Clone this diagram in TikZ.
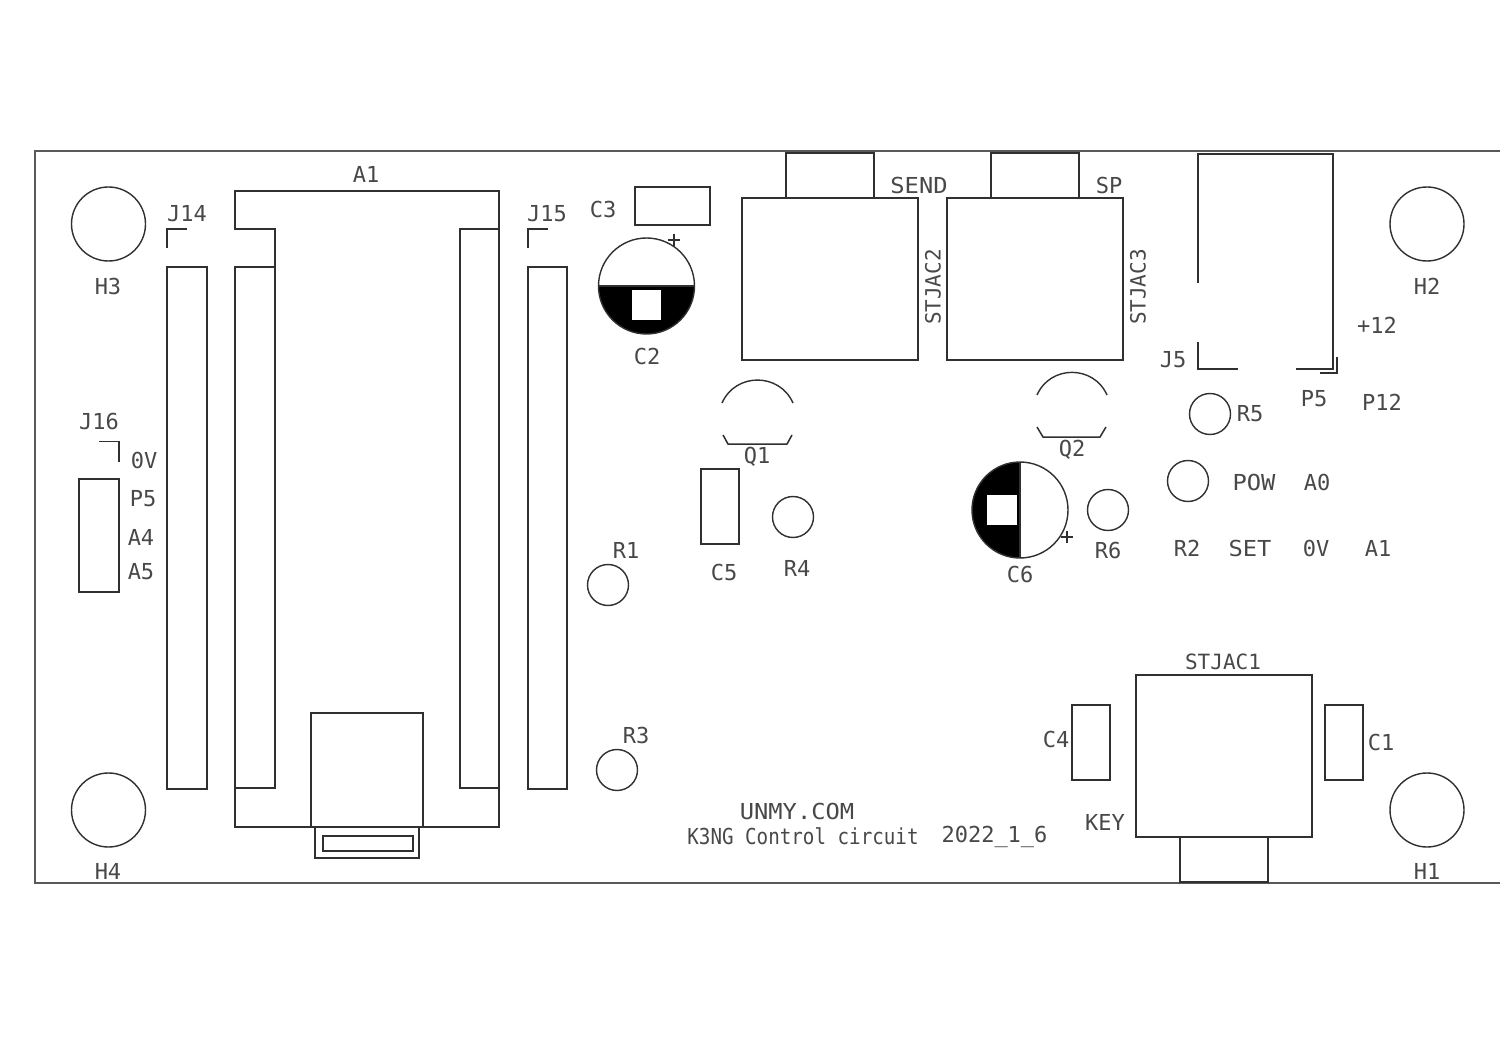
\documentclass[tikz,border=0pt]{standalone}
\usepackage{fontspec}
\setmonofont{DejaVu Sans Mono}
\definecolor{silk}{HTML}{303030}
\definecolor{txt}{HTML}{484848}
\tikzset{
  outline/.style={draw=silk,line width=1.5pt,line join=miter},
  lbl/.style={text=txt,inner sep=0pt,font=\fontsize{22}{22}\selectfont\ttfamily},
  lblwide/.style={lbl,font=\fontsize{22}{22}\selectfont\ttfamily\addfontfeature{FakeStretch=1.08}},
  lblthin/.style={lbl,font=\fontsize{21}{21}\selectfont\ttfamily},
  lblnote/.style={lbl,font=\fontsize{22}{22}\selectfont\ttfamily\addfontfeature{FakeStretch=0.873}},
  hole/.style={draw=silk,line width=1.4pt}
}
\begin{document}
\begin{tikzpicture}[x=1pt,y=-1pt]
  \useasboundingbox (0,0) rectangle (1500,1059);
  \fill[white] (0,0) rectangle (1500,1059);
  % board edge
  \draw[draw=silk!80,line width=1.7pt] (1500,151) -- (35,151) -- (35,883) -- (1500,883);
  % mounting holes and resistors
  \foreach \x/\y in {108.5/224,1427/224,108.5/810,1427/810}{
    \draw[hole] (\x,\y) circle (37);}
  \foreach \x/\y in {608/585,617/770,793/517,1108/510,1210/414,1188/481}{
    \draw[hole] (\x,\y) circle (20.5);}
  % plain rectangles
  \foreach \a/\b/\c/\d in {167/267/207/789,528/267/567/789,235/267/275/788,460/229/499/788,
      311/713/423/827,315/827/419/858,323/836/413/851,635/187/710/225,701/469/739/544,
      742/198/918/360,786/153/874/198,947/198/1123/360,991/153/1079/198,
      79/479/119/592,1072/705/1110/780,1325/705/1363/780,1136/675/1312/837,1180/837/1268/882}{
    \draw[outline] (\a,\b) rectangle (\c,\d);}
  % A1 body
  \draw[outline] (275,267) -- (275,229) -- (235,229) -- (235,191) -- (499,191) -- (499,827) -- (235,827) -- (235,788);
  % pin 1 corners
  \draw[outline] (167,248) -- (167,229) -- (187,229);
  \draw[outline] (528,248) -- (528,229) -- (548,229);
  \draw[outline] (99,441.5) -- (119,441.5) -- (119,461.5);
  % J5
  \draw[outline] (1198,283) -- (1198,154) -- (1333,154) -- (1333,369) -- (1296,369);
  \draw[outline] (1198,342) -- (1198,369) -- (1238,369);
  \draw[outline] (1337,357) -- (1337,373) -- (1320,373);
  % transistors
  \draw[hole] (722,403) to[out=66,in=114,looseness=1.21] (793,403);
  \draw[outline] (723,435) -- (728,444) -- (787,444) -- (792,435);
  \draw[hole] (1037,395) to[out=66,in=114,looseness=1.21] (1107,395);
  \draw[outline] (1037,427) -- (1043,437) -- (1100,437) -- (1106,427);
  % electrolytic caps
  \begin{scope}
    \clip (590,286) rectangle (705,345);
    \fill[black] (646.5,286) circle (48);
  \end{scope}
  \fill[white] (632,290) rectangle (661,320);
  \draw[hole] (646.5,286) circle (48);
  \draw[outline] (598.5,286) -- (694.5,286);
  \draw[hole] (668,240) -- (680,240);
  \draw[hole] (674,234) -- (674,246);
  \begin{scope}
    \clip (965,455) rectangle (1020,565);
    \fill[black] (1020,510) circle (48);
  \end{scope}
  \fill[white] (987,495) rectangle (1017,525);
  \draw[hole] (1020,510) circle (48);
  \draw[outline] (1020,462) -- (1020,558);
  \draw[hole] (1061,537) -- (1073,537);
  \draw[hole] (1067,531) -- (1067,543);
  % labels
  \foreach \x/\y/\t [count=\n] in {366/174/A1,187/214/J14,547/214/J15,108/286/H3,1427/286/H2,108/871/H4,1427/871/H1,
      603/209/C3,647/356/C2,1109/185/SP,1173/360/J5,1377/325/+12,1314/399/P5,1382/402/P12,
      1250/414/R5,1317/482/A0,1187/548/R2,1316/548/0V,1378/548/A1,
      757/457/Q1,1072/450/Q2,1020/574/C6,724/572/C5,797/568/R4,1108/550/R6,626/550/R1,636/735/R3,
      99/421/J16,144/460/0V,143/499/P5,141/537/A4,141/572/A5,1056/739/C4,1381/742/C1,1105/822/KEY,994.5/837/2022\_1\_6}{
    \node[lbl] (t\n) at (\x,\y) {\t};}
  \foreach \x/\y/\t [count=\n] in {919/185/SEND,1254/482/POW,1250/548/SET,797/811/UNMY.COM}{
    \node[lblwide] (w\n) at (\x,\y) {\t};}
  \node[lblthin] (stjac1) at (1223,662) {STJAC1};
  \node[lblthin,rotate=90] (stjac2) at (933,287) {STJAC2};
  \node[lblthin,rotate=90] (stjac3) at (1138,287) {STJAC3};
  \node[lblnote] (ctrl) at (803,836) {K3NG Control circuit};
\end{tikzpicture}
\end{document}
